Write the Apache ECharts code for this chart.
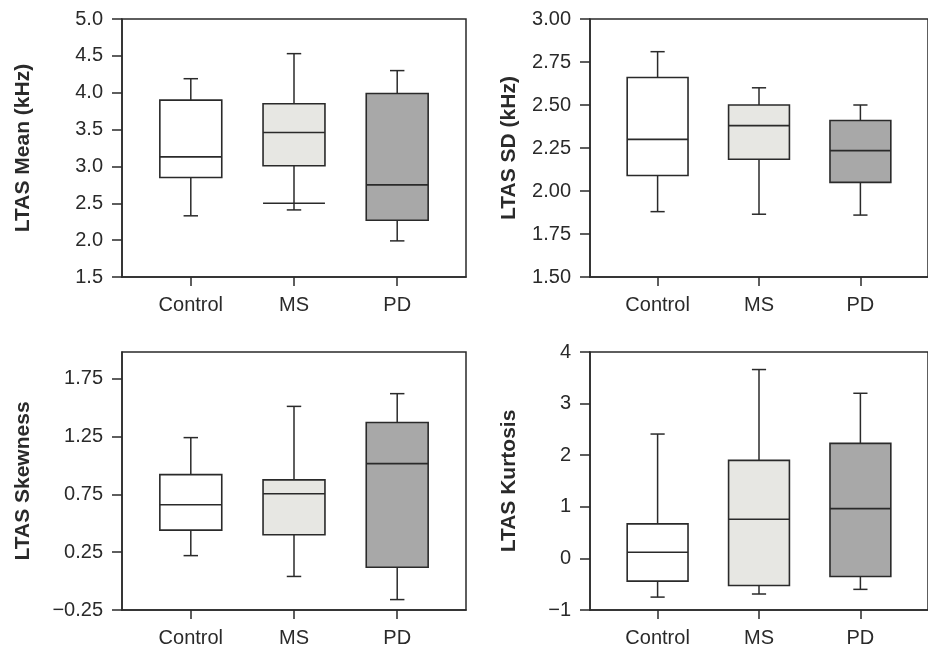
<!DOCTYPE html>
<html>
<head>
<meta charset="utf-8">
<script src="https://cdn.jsdelivr.net/npm/echarts@6/dist/echarts.min.js"></script>
<style>
html,body{margin:0;padding:0;background:#fff;}
#chart{width:928px;height:654px;}
</style>
</head>
<body>
<div id="chart"></div>
<script>
// ---------- data ----------
const groups = ['Control', 'MS', 'PD'];
// each row: [lower whisker, Q1, median, Q3, upper whisker]
const meanKHz = [
  [2.33, 2.85, 3.13, 3.90, 4.19],
  [2.41, 3.01, 3.46, 3.85, 4.53],
  [1.99, 2.27, 2.75, 3.99, 4.30]
];
const sdKHz = [
  [1.88, 2.09, 2.30, 2.66, 2.81],
  [1.865, 2.185, 2.38, 2.50, 2.60],
  [1.86, 2.05, 2.235, 2.41, 2.50]
];
const skewness = [
  [0.22, 0.44, 0.66, 0.92, 1.24],
  [0.04, 0.40, 0.755, 0.875, 1.51],
  [-0.16, 0.12, 1.015, 1.37, 1.62]
];
const kurtosis = [
  [-0.75, -0.44, 0.12, 0.67, 2.41],
  [-0.69, -0.525, 0.76, 1.90, 3.66],
  [-0.60, -0.35, 0.965, 2.23, 3.20]
];
// extra horizontal line drawn across the MS box in the LTAS Mean panel: [group position, value]
const meanExtraLine = [[2, 2.5]];

// tick labels
const meanTicks = [1.5, 2.0, 2.5, 3.0, 3.5, 4.0, 4.5, 5.0];
const sdTicks = [1.50, 1.75, 2.00, 2.25, 2.50, 2.75, 3.00];
const skewTicks = [-0.25, 0.25, 0.75, 1.25, 1.75];
const kurtTicks = [-1, 0, 1, 2, 3, 4];
const groupTicks = [1, 2, 3];

// ---------- styles ----------
const fills = ['#ffffff', '#e7e7e3', '#a8a8a8'];
const ink = '#2a2a2a';
const FONT = 'Liberation Sans, Arial, sans-serif';

const chart = echarts.init(document.getElementById('chart'));

const panels = [
  {name: 'LTAS Mean (kHz)', vals: meanKHz, ticks: meanTicks, min: 1.5, max: 5.0, dec: 1,
   grid: {left: 122, top: 19, width: 344, height: 258}, gap: 88},
  {name: 'LTAS SD (kHz)', vals: sdKHz, ticks: sdTicks, min: 1.5, max: 3.0, dec: 2,
   grid: {left: 590, top: 19, width: 345, height: 258}, gap: 70},
  {name: 'LTAS Skewness', vals: skewness, ticks: skewTicks, min: -0.25, max: 1.98, dec: 2,
   grid: {left: 122, top: 352, width: 344, height: 258}, gap: 88},
  {name: 'LTAS Kurtosis', vals: kurtosis, ticks: kurtTicks, min: -1, max: 4, dec: 0,
   grid: {left: 590, top: 352, width: 345, height: 258}, gap: 70}
];

function renderBox(params, api) {
  const x = api.value(0);
  const lo = api.value(1), q1 = api.value(2), med = api.value(3), q3 = api.value(4), hi = api.value(5);
  const bw = api.size([0.6, 0])[0];
  const cw = api.size([0.14, 0])[0];
  const pLo = api.coord([x, lo]), pQ1 = api.coord([x, q1]), pMed = api.coord([x, med]),
        pQ3 = api.coord([x, q3]), pHi = api.coord([x, hi]);
  const cx = pMed[0];
  const ls = {stroke: ink, lineWidth: 1.5};
  return {
    type: 'group',
    children: [
      {type: 'line', shape: {x1: cx, y1: pQ3[1], x2: cx, y2: pHi[1]}, style: ls},
      {type: 'line', shape: {x1: cx, y1: pQ1[1], x2: cx, y2: pLo[1]}, style: ls},
      {type: 'line', shape: {x1: cx - cw / 2, y1: pHi[1], x2: cx + cw / 2, y2: pHi[1]}, style: ls},
      {type: 'line', shape: {x1: cx - cw / 2, y1: pLo[1], x2: cx + cw / 2, y2: pLo[1]}, style: ls},
      {type: 'rect', shape: {x: cx - bw / 2, y: pQ3[1], width: bw, height: pQ1[1] - pQ3[1]},
       style: {fill: fills[params.dataIndex], stroke: ink, lineWidth: 1.6}},
      {type: 'line', shape: {x1: cx - bw / 2, y1: pMed[1], x2: cx + bw / 2, y2: pMed[1]},
       style: {stroke: ink, lineWidth: 1.6}}
    ]
  };
}

function renderExtra(params, api) {
  const x = api.value(0), v = api.value(1);
  const bw = api.size([0.6, 0])[0];
  const p = api.coord([x, v]);
  return {type: 'line', shape: {x1: p[0] - bw / 2, y1: p[1], x2: p[0] + bw / 2, y2: p[1]},
          style: {stroke: ink, lineWidth: 1.5}};
}

const grids = [], xAxes = [], yAxes = [], series = [];
panels.forEach((p, i) => {
  grids.push(Object.assign({show: true, borderColor: ink, borderWidth: 1.5, backgroundColor: 'transparent'}, p.grid));
  xAxes.push({
    type: 'value', gridIndex: i, min: 1 / 3, max: 11 / 3,
    axisLine: {show: true, onZero: false, lineStyle: {color: ink, width: 1.5}},
    axisTick: {show: true, inside: false, length: 9, customValues: groupTicks, lineStyle: {color: ink, width: 1.5}},
    axisLabel: {show: true, margin: 18, customValues: groupTicks, color: ink, fontSize: 20, fontFamily: FONT,
      formatter: v => groups[Math.round(v) - 1]},
    splitLine: {show: false}
  });
  yAxes.push({
    type: 'value', gridIndex: i, min: p.min, max: p.max,
    name: p.name, nameLocation: 'middle', nameGap: p.gap,
    nameTextStyle: {fontSize: 21, fontWeight: 'bold', color: ink, fontFamily: FONT},
    axisLine: {show: true, onZero: false, lineStyle: {color: ink, width: 1.5}},
    axisTick: {show: true, inside: false, length: 10, customValues: p.ticks, lineStyle: {color: ink, width: 1.5}},
    axisLabel: {show: true, margin: 19, customValues: p.ticks, color: ink, fontSize: 20, fontFamily: FONT,
      formatter: v => v.toFixed(p.dec).replace('-', '\u2212')},
    splitLine: {show: false}
  });
  series.push({
    type: 'custom', xAxisIndex: i, yAxisIndex: i,
    renderItem: renderBox,
    encode: {x: 0, y: [1, 2, 3, 4, 5]},
    data: p.vals.map((r, k) => [groupTicks[k]].concat(r)),
    silent: true, animation: false
  });
});
series.push({
  type: 'custom', xAxisIndex: 0, yAxisIndex: 0,
  renderItem: renderExtra, encode: {x: 0, y: 1},
  data: meanExtraLine, silent: true, animation: false, z: 3
});

chart.setOption({
  backgroundColor: '#ffffff',
  animation: false,
  grid: grids, xAxis: xAxes, yAxis: yAxes, series: series
});
</script>
</body>
</html>
